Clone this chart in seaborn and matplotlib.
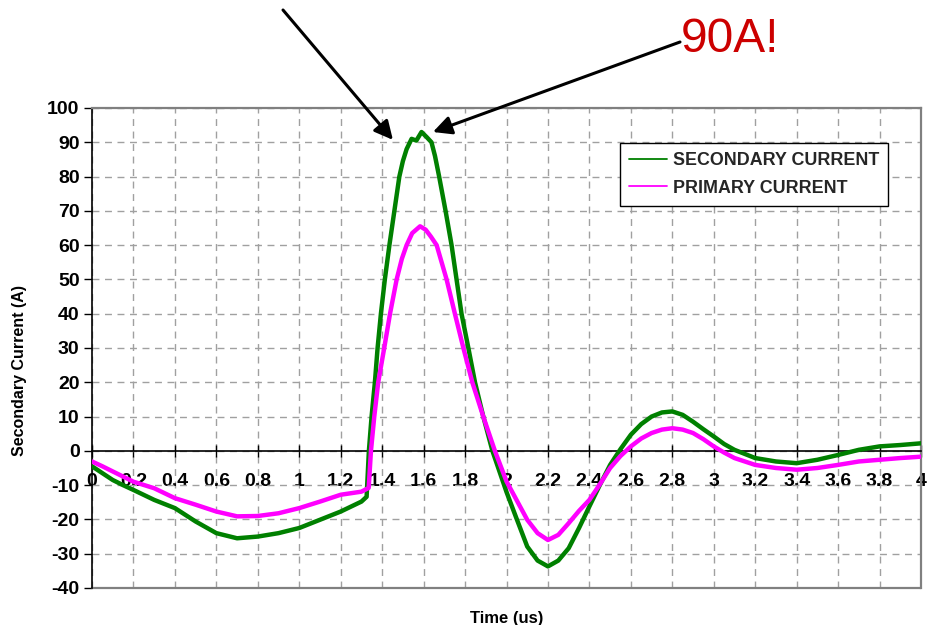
import matplotlib
matplotlib.use("Agg")
import matplotlib.pyplot as plt
import seaborn as sns
import pandas as pd
from matplotlib.lines import Line2D

# Secondary (output) current, amps vs time in microseconds
t_secondary = [0.0, 0.05, 0.1, 0.15, 0.2, 0.3, 0.4, 0.5, 0.6, 0.7, 0.8, 0.9,
               1.0, 1.1, 1.2, 1.3, 1.325, 1.336, 1.349, 1.365, 1.378, 1.394,
               1.413, 1.435, 1.459, 1.483, 1.5, 1.518, 1.542, 1.565, 1.59,
               1.615, 1.638, 1.655, 1.675, 1.706, 1.735, 1.759, 1.783, 1.816,
               1.848, 1.888, 1.932, 2.0, 2.05, 2.1, 2.15, 2.2, 2.25, 2.3,
               2.35, 2.4, 2.45, 2.5, 2.55, 2.6, 2.65, 2.7, 2.75, 2.8, 2.85,
               2.9, 2.95, 3.0, 3.05, 3.1, 3.2, 3.3, 3.4, 3.5, 3.6, 3.7, 3.8,
               3.9, 4.0]
i_secondary = [-4.5, -6.5, -8.5, -10.0, -11.4, -14.3, -16.7, -20.6, -24.0,
               -25.5, -25.0, -24.0, -22.5, -20.1, -17.7, -14.8, -13.4, 0.0,
               10.0, 20.0, 30.0, 40.0, 50.0, 60.0, 70.0, 80.0, 84.5, 88.0,
               91.0, 90.5, 93.0, 91.5, 90.0, 86.0, 80.0, 70.0, 60.0, 50.0,
               40.0, 30.0, 20.0, 10.0, 0.0, -12.0, -20.0, -27.9, -32.0, -33.7,
               -32.0, -28.4, -22.5, -16.2, -10.0, -4.1, 0.5, 4.7, 7.8, 10.0,
               11.2, 11.5, 10.5, 8.5, 6.3, 4.2, 2.0, 0.3, -2.1, -3.1, -3.6,
               -2.6, -1.2, 0.3, 1.3, 1.7, 2.2]

# Primary (input) current
t_primary = [0.0, 0.05, 0.1, 0.15, 0.2, 0.3, 0.4, 0.5, 0.6, 0.7, 0.8, 0.9,
             1.0, 1.1, 1.2, 1.3, 1.335, 1.346, 1.362, 1.381, 1.41, 1.438,
             1.47, 1.495, 1.518, 1.545, 1.583, 1.61, 1.635, 1.663, 1.711,
             1.751, 1.792, 1.835, 1.888, 1.944, 2.0, 2.05, 2.1, 2.15, 2.2,
             2.25, 2.3, 2.35, 2.4, 2.45, 2.5, 2.55, 2.6, 2.65, 2.7, 2.75, 2.8,
             2.85, 2.9, 2.95, 3.0, 3.05, 3.1, 3.2, 3.3, 3.4, 3.5, 3.6, 3.7,
             3.8, 3.9, 4.0]
i_primary = [-3.1, -4.5, -6.0, -7.5, -9.0, -10.9, -13.8, -15.7, -17.7,
             -19.1, -19.0, -18.2, -16.7, -14.8, -12.8, -11.9, -10.8, 0.0,
             10.0, 20.0, 30.0, 40.0, 50.0, 56.0, 60.0, 63.5, 65.5, 64.5,
             62.5, 60.0, 50.0, 40.0, 30.0, 20.0, 10.0, 0.0, -8.9, -14.5,
             -20.1, -24.0, -26.0, -24.5, -21.1, -17.5, -14.3, -9.8, -5.0,
             -1.5, 1.3, 3.6, 5.2, 6.2, 6.6, 6.2, 5.2, 3.4, 1.3, -0.5, -2.1,
             -4.1, -5.0, -5.5, -5.0, -4.1, -3.1, -2.6, -2.1, -1.7]

x_ticks = [0, 0.2, 0.4, 0.6, 0.8, 1, 1.2, 1.4, 1.6, 1.8, 2, 2.2, 2.4, 2.6,
           2.8, 3, 3.2, 3.4, 3.6, 3.8, 4]
x_tick_labels = ["0", "0.2", "0.4", "0.6", "0.8", "1", "1.2", "1.4", "1.6",
                 "1.8", "2", "2.2", "2.4", "2.6", "2.8", "3", "3.2", "3.4",
                 "3.6", "3.8", "4"]
y_ticks = list(range(-40, 101, 10))

series_names = ["SECONDARY CURRENT", "PRIMARY CURRENT"]
series_colors = ["#008000", "#ff00ff"]

sns.set_theme(style="white")
plt.rcParams["font.family"] = ["Liberation Sans", "DejaVu Sans"]
plt.rcParams["axes.unicode_minus"] = False

fig = plt.figure(figsize=(9.38, 6.25), dpi=100)
ax = fig.add_axes([92 / 938, 1 - 588 / 625, 829 / 938, 480 / 625])

sec = pd.DataFrame({"t": t_secondary, "i": i_secondary})
pri = pd.DataFrame({"t": t_primary, "i": i_primary})
sns.lineplot(data=sec, x="t", y="i", color=series_colors[0], linewidth=3.2,
             ax=ax, legend=False, zorder=3)
sns.lineplot(data=pri, x="t", y="i", color=series_colors[1], linewidth=3.2,
             ax=ax, legend=False, zorder=4)

ax.set_xlim(0, 4)
ax.set_ylim(-40, 100)
ax.set_xticks(x_ticks)
ax.set_xticklabels(x_tick_labels)
ax.set_yticks(y_ticks)

ax.set_axisbelow(True)
ax.grid(True, linestyle=(0, (5, 4)), color="#a0a0a0", linewidth=1.0)

# zero line carries the time axis; outer frame is grey
ax.spines["bottom"].set_position(("data", 0))
ax.spines["bottom"].set_color("black")
ax.spines["bottom"].set_linewidth(1.2)
ax.spines["left"].set_color("black")
ax.spines["left"].set_linewidth(1.2)
for side in ("top", "right"):
    ax.spines[side].set_color("#808080")
    ax.spines[side].set_linewidth(1.6)
ax.axhline(-40, color="#808080", linewidth=1.6, clip_on=False, zorder=2)

ax.tick_params(axis="y", direction="out", length=6, width=1.0,
               color="black", labelsize=14, pad=3, left=True)
ax.tick_params(axis="x", direction="inout", length=8, width=1.0,
               color="black", labelsize=14, pad=12, bottom=True)
for lab in ax.get_xticklabels() + ax.get_yticklabels():
    lab.set_fontweight("bold")
    lab.set_color("black")

ax.set_xlabel("Time (us)", fontsize=12, fontweight="bold", color="black")
ax.xaxis.set_label_coords(0.5, -0.048)
ax.set_ylabel("Secondary Current (A)", fontsize=11.5, fontweight="bold",
              color="black")
ax.yaxis.set_label_coords(-0.078, 0.454)

handles = [Line2D([0], [0], color=c, lw=1.3) for c in series_colors]
leg = ax.legend(handles, series_names, loc="upper left",
                bbox_to_anchor=((620 - 92) / 829, (588 - 143) / 480),
                borderaxespad=0, fancybox=False, framealpha=1,
                edgecolor="black", handlelength=2.1, handletextpad=0.35,
                labelspacing=0.6, borderpad=0.5,
                prop={"weight": "bold", "size": 12.9})
leg.get_frame().set_linewidth(1.0)
leg.set_zorder(6)

# callouts pointing at the secondary peak
ax.annotate("", xy=(1.452, 90.7), xycoords="data",
            xytext=(283 / 938, 1 - 10 / 625), textcoords="figure fraction",
            arrowprops=dict(arrowstyle="-|>", color="black", lw=2.2,
                            mutation_scale=28, shrinkA=0, shrinkB=0),
            annotation_clip=False)
ax.annotate("", xy=(1.645, 93.0), xycoords="data",
            xytext=(680 / 938, 1 - 42 / 625), textcoords="figure fraction",
            arrowprops=dict(arrowstyle="-|>", color="black", lw=2.2,
                            mutation_scale=28, shrinkA=0, shrinkB=0),
            annotation_clip=False)
fig.text(681 / 938, 1 - 52 / 625, "90A!", color="#cc0000", fontsize=34.5,
         ha="left", va="baseline")

fig.savefig("out.png", dpi=100, facecolor="white")
